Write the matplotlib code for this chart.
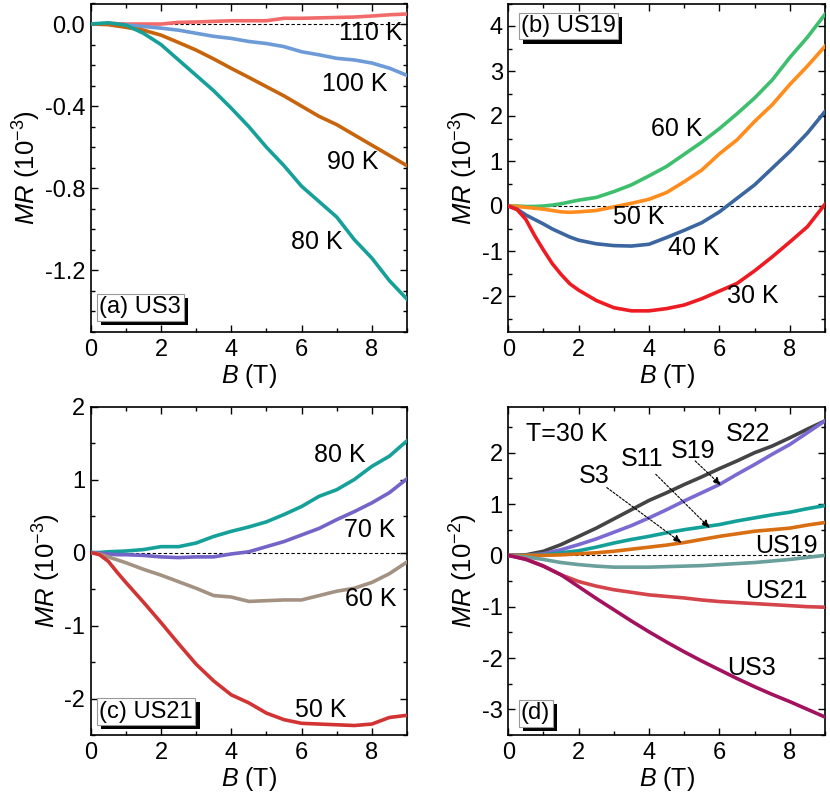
import matplotlib
matplotlib.use("Agg")
import matplotlib.pyplot as plt
import matplotlib.patheffects as pe
import numpy as np
from matplotlib.ticker import MultipleLocator, FormatStrFormatter

plt.rcParams['font.family'] = ['Liberation Sans', 'DejaVu Sans']
plt.rcParams['mathtext.fontset'] = 'custom'
plt.rcParams['mathtext.rm'] = 'Liberation Sans'
plt.rcParams['mathtext.it'] = 'Liberation Sans:italic'
plt.rcParams['axes.unicode_minus'] = False

# ---------------- data ----------------
# Panel (a) US3, MR in 1e-3
a_B = [0, 0.5, 1, 1.5, 2, 2.5, 3, 3.5, 4, 4.5, 5, 5.5, 6, 6.5, 7, 7.5, 8, 8.5, 9]
a_80K = [0, 0.006, -0.005, -0.045, -0.10, -0.175, -0.25, -0.325, -0.41, -0.50, -0.60, -0.69, -0.79, -0.865, -0.94, -1.05, -1.14, -1.25, -1.34]
a_90K = [0, -0.003, -0.016, -0.03, -0.054, -0.09, -0.127, -0.17, -0.216, -0.26, -0.305, -0.35, -0.40, -0.45, -0.49, -0.54, -0.59, -0.64, -0.69]
a_100K = [0, 0.0, -0.005, -0.012, -0.02, -0.03, -0.045, -0.06, -0.07, -0.085, -0.095, -0.11, -0.135, -0.15, -0.167, -0.175, -0.19, -0.215, -0.25]
a_110K = [0, 0.003, 0.0, 0.0, 0.0, 0.008, 0.01, 0.013, 0.016, 0.016, 0.016, 0.028, 0.028, 0.03, 0.032, 0.034, 0.039, 0.045, 0.049]

# Panel (b) US19, MR in 1e-3
b_B = [0, 0.25, 0.5, 0.75, 1, 1.25, 1.5, 1.75, 2, 2.5, 3, 3.5, 4, 4.5, 5, 5.5, 6, 6.5, 7, 7.5, 8, 8.5, 9]
b_60K = [0, 0.0, -0.01, -0.01, 0.0, 0.02, 0.05, 0.09, 0.13, 0.19, 0.32, 0.47, 0.67, 0.88, 1.15, 1.42, 1.72, 2.05, 2.40, 2.80, 3.30, 3.75, 4.26]
b_50K = [0, -0.01, -0.03, -0.05, -0.07, -0.10, -0.13, -0.14, -0.13, -0.10, -0.02, 0.06, 0.15, 0.30, 0.54, 0.80, 1.16, 1.47, 1.88, 2.25, 2.70, 3.11, 3.55]
b_40K = [0, -0.07, -0.20, -0.30, -0.40, -0.51, -0.60, -0.69, -0.76, -0.84, -0.88, -0.89, -0.85, -0.70, -0.54, -0.37, -0.13, 0.17, 0.47, 0.84, 1.21, 1.62, 2.10]
b_30K = [0, -0.08, -0.30, -0.66, -0.98, -1.28, -1.52, -1.73, -1.87, -2.10, -2.26, -2.33, -2.33, -2.28, -2.20, -2.06, -1.89, -1.72, -1.44, -1.13, -0.80, -0.46, 0.04]

# Panel (c) US21, MR in 1e-3
c_B = [0, 0.25, 0.5, 0.75, 1, 1.5, 2, 2.5, 3, 3.5, 4, 4.5, 5, 5.5, 6, 6.5, 7, 7.5, 8, 8.5, 9]
c_80K = [0, 0.0, 0.01, 0.015, 0.02, 0.04, 0.08, 0.08, 0.13, 0.22, 0.29, 0.35, 0.42, 0.52, 0.63, 0.77, 0.86, 1.00, 1.18, 1.32, 1.53]
c_70K = [0, -0.01, -0.02, -0.03, -0.03, -0.04, -0.06, -0.07, -0.06, -0.06, -0.02, 0.01, 0.08, 0.15, 0.24, 0.33, 0.45, 0.56, 0.68, 0.82, 1.01]
c_60K = [0, -0.02, -0.06, -0.10, -0.14, -0.23, -0.31, -0.40, -0.49, -0.59, -0.61, -0.67, -0.66, -0.65, -0.65, -0.59, -0.53, -0.49, -0.41, -0.29, -0.13]
c_50K = [0, -0.03, -0.12, -0.27, -0.41, -0.68, -0.96, -1.25, -1.53, -1.76, -1.95, -2.06, -2.20, -2.29, -2.34, -2.35, -2.36, -2.37, -2.35, -2.26, -2.23]

# Panel (d) T = 30 K, MR in 1e-2
d_B = [0, 0.5, 1, 1.5, 2, 2.5, 3, 3.5, 4, 4.5, 5, 5.5, 6, 6.5, 7, 7.5, 8, 8.5, 9]
d_S22 = [0, 0.01, 0.08, 0.21, 0.37, 0.53, 0.71, 0.89, 1.07, 1.22, 1.38, 1.53, 1.69, 1.84, 2.00, 2.13, 2.29, 2.46, 2.62]
d_S19 = [0, 0.0, 0.03, 0.11, 0.21, 0.32, 0.45, 0.58, 0.73, 0.89, 1.06, 1.22, 1.38, 1.58, 1.77, 1.97, 2.16, 2.39, 2.62]
d_S11 = [0, 0.0, 0.01, 0.05, 0.09, 0.16, 0.24, 0.31, 0.37, 0.44, 0.50, 0.55, 0.60, 0.67, 0.73, 0.79, 0.84, 0.91, 0.97]
d_S3 = [0, 0.0, 0.0, 0.01, 0.03, 0.05, 0.08, 0.12, 0.16, 0.20, 0.25, 0.31, 0.37, 0.42, 0.47, 0.50, 0.53, 0.59, 0.64]
d_US19 = [0, -0.03, -0.08, -0.14, -0.18, -0.21, -0.23, -0.23, -0.23, -0.22, -0.21, -0.20, -0.18, -0.16, -0.14, -0.11, -0.08, -0.04, 0.0]
d_US21 = [0, -0.07, -0.21, -0.38, -0.51, -0.60, -0.67, -0.72, -0.77, -0.80, -0.83, -0.87, -0.90, -0.92, -0.94, -0.96, -0.98, -1.00, -1.01]
d_US3 = [0, -0.08, -0.21, -0.38, -0.61, -0.84, -1.06, -1.28, -1.49, -1.69, -1.88, -2.06, -2.23, -2.40, -2.56, -2.71, -2.85, -3.00, -3.15]

LW = 2.6

fig = plt.figure(figsize=(8.3, 7.99), dpi=100)
W, H = 830, 799


def mkax(l, r, t, b):
    return fig.add_axes([l / W, 1 - b / H, (r - l) / W, (b - t) / H])


axa = mkax(90.7, 407, 3.5, 332)
axb = mkax(508.3, 825, 3.5, 332)
axc = mkax(90.7, 407, 406.5, 735)
axd = mkax(508.3, 825, 406.5, 735)


def style(ax, ylim, ymaj, ymin, fmt, ylabel):
    ax.set_xlim(0, 9)
    ax.set_ylim(*ylim)
    ax.xaxis.set_major_locator(MultipleLocator(2))
    ax.xaxis.set_minor_locator(MultipleLocator(1))
    ax.yaxis.set_major_locator(MultipleLocator(ymaj))
    ax.yaxis.set_minor_locator(MultipleLocator(ymin))
    ax.yaxis.set_major_formatter(FormatStrFormatter(fmt))
    ax.tick_params(which='both', direction='in', top=True, right=True,
                   labelsize=17, width=1.0)
    ax.tick_params(which='major', length=5)
    ax.tick_params(which='minor', length=3)
    ax.tick_params(axis='x', pad=5)
    ax.tick_params(axis='y', pad=4)
    for s in ax.spines.values():
        s.set_linewidth(1.2)
    ax.set_xlabel(r'$B$ (T)', fontsize=18, labelpad=1)
    ax.set_ylabel(ylabel, fontsize=18.5, labelpad=1)
    ax.axhline(0, color='black', lw=0.8, ls=(0, (3, 2)), zorder=1)


def boxlabel(ax, x, y, s):
    t = ax.text(x, y, s, fontsize=17, ha='left', va='center', zorder=6,
                bbox=dict(boxstyle='square,pad=0.1', fc='white', ec='#999999', lw=0.8))
    t.get_bbox_patch().set_path_effects([
        pe.SimplePatchShadow(offset=(3, -3), shadow_rgbFace='black', alpha=1.0),
        pe.Normal()])


ylab3 = r'$MR$ (10$^{\mathrm{-3}}$)'
ylab2 = r'$MR$ (10$^{\mathrm{-2}}$)'
fs = 18

# (a)
style(axa, (-1.5, 0.1), 0.4, 0.1, '%.1f', ylab3)
axa.plot(a_B, a_110K, color='#f26b6b', lw=LW, zorder=3)
axa.plot(a_B, a_100K, color='#6c9bd8', lw=LW, zorder=3)
axa.plot(a_B, a_90K, color='#c8640c', lw=LW, zorder=3)
axa.plot(a_B, a_80K, color='#16a09a', lw=LW, zorder=3)
axa.text(7.98, -0.045, '110 K', fontsize=fs, ha='center', va='center')
axa.text(7.5, -0.29, '100 K', fontsize=fs, ha='center', va='center')
axa.text(7.46, -0.67, '90 K', fontsize=fs, ha='center', va='center')
axa.text(6.42, -1.06, '80 K', fontsize=fs, ha='center', va='center')
boxlabel(axa, 0.25, -1.38, '(a) US3')

# (b)
style(axb, (-2.8, 4.5), 1, 0.5, '%d', ylab3)
axb.plot(b_B, b_60K, color='#3dbf6e', lw=LW, zorder=3)
axb.plot(b_B, b_50K, color='#ff8c1c', lw=LW, zorder=3)
axb.plot(b_B, b_40K, color='#3b66a0', lw=LW, zorder=3)
axb.plot(b_B, b_30K, color='#ee1c22', lw=LW, zorder=3)
axb.text(4.79, 1.70, '60 K', fontsize=fs, ha='center', va='center')
axb.text(3.70, -0.24, '50 K', fontsize=fs, ha='center', va='center')
axb.text(5.26, -0.94, '40 K', fontsize=fs, ha='center', va='center')
axb.text(6.94, -1.99, '30 K', fontsize=fs, ha='center', va='center')
boxlabel(axb, 0.36, 4.0, '(b) US19')

# (c)
style(axc, (-2.5, 2.0), 1, 0.5, '%d', ylab3)
axc.plot(c_B, c_80K, color='#16a09a', lw=LW, zorder=3)
axc.plot(c_B, c_70K, color='#7464c8', lw=LW, zorder=3)
axc.plot(c_B, c_60K, color='#a39282', lw=LW, zorder=3)
axc.plot(c_B, c_50K, color='#d23434', lw=LW, zorder=3)
axc.text(7.08, 1.33, '80 K', fontsize=fs, ha='center', va='center')
axc.text(7.94, 0.31, '70 K', fontsize=fs, ha='center', va='center')
axc.text(7.98, -0.64, '60 K', fontsize=fs, ha='center', va='center')
axc.text(6.56, -2.16, '50 K', fontsize=fs, ha='center', va='center')
boxlabel(axc, 0.25, -2.18, '(c) US21')

# (d)
style(axd, (-3.5, 2.9), 1, 0.5, '%d', ylab2)
axd.plot(d_B, d_S22, color='#444444', lw=LW, zorder=3)
axd.plot(d_B, d_S19, color='#7b6ad2', lw=LW, zorder=3)
axd.plot(d_B, d_S11, color='#12a099', lw=LW, zorder=3)
axd.plot(d_B, d_S3, color='#d86e12', lw=LW, zorder=3)
axd.plot(d_B, d_US19, color='#6aa09c', lw=LW, zorder=3)
axd.plot(d_B, d_US21, color='#d4444a', lw=LW, zorder=3)
axd.plot(d_B, d_US3, color='#a3125e', lw=LW, zorder=3)
axd.text(1.66, 2.36, 'T=30 K', fontsize=fs, ha='center', va='center')
axd.text(6.82, 2.36, 'S22', fontsize=fs, ha='center', va='center')
axd.text(5.26, 2.03, 'S19', fontsize=fs, ha='center', va='center')
axd.text(3.79, 1.87, 'S11', fontsize=fs, ha='center', va='center')
axd.text(2.45, 1.54, 'S3', fontsize=fs, ha='center', va='center')
axd.text(7.91, 0.18, 'US19', fontsize=fs, ha='center', va='center')
axd.text(7.63, -0.70, 'US21', fontsize=fs, ha='center', va='center')
axd.text(6.92, -2.20, 'US3', fontsize=fs, ha='center', va='center')
arrow = dict(arrowstyle='-|>,head_length=0.5,head_width=0.2', color='black',
             lw=0.8, ls=(0, (2, 1.5)), shrinkA=0, shrinkB=0)
axd.annotate('', xy=(4.93, 0.24), xytext=(2.80, 1.32), arrowprops=arrow, zorder=4)
axd.annotate('', xy=(5.73, 0.53), xytext=(4.19, 1.58), arrowprops=arrow, zorder=4)
axd.annotate('', xy=(6.05, 1.36), xytext=(5.31, 1.84), arrowprops=arrow, zorder=4)
boxlabel(axd, 0.36, -3.08, '(d)')

fig.savefig('out.png', dpi=100)
